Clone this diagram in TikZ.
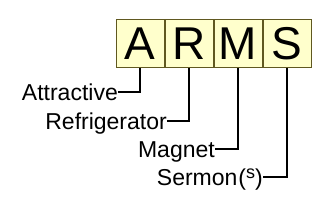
\documentclass[tikz,border=0pt]{standalone}
\usepackage{fontspec}
\setmainfont{Liberation Sans}
\usetikzlibrary{%
    arrows.meta,%
    positioning
    }
\definecolor{boxfill}{RGB}{255,255,204}
\definecolor{boxline}{RGB}{96,88,32}
\tikzset{
  letterbox/.style={
    rectangle,
    minimum size=48pt,
    inner sep=0pt,
    line width=1pt,
    draw=boxline,
    fill=boxfill,
    font=\fontsize{46}{46}\selectfont,
  },
  wordlabel/.style={
    inner sep=0pt,
    text height=16.5pt,
    text depth=0pt,
    font=\fontsize{23}{23}\selectfont,
  },
  connector/.style={
    line width=1.5pt,
    black,
  },
}

\begin{document}
\begin{tikzpicture}[x=1pt,y=-1pt]
\useasboundingbox (0,0) rectangle (328,219);
\node[letterbox]
  (boxA)
  at (140,44)
  {A};
\node[letterbox,right=0pt of boxA]
  (boxR)
  {R};
\node[letterbox,right=0pt of boxR]
  (boxM)
  {M};
\node[letterbox,right=0pt of boxM]
  (boxS)
  {S};

\node[wordlabel,anchor=east]
  (attr)
  at (118,92)
  {Attractive};
\node[wordlabel,anchor=east]
  (fridge)
  at (167,121)
  {Refrigerator};
\node[wordlabel,anchor=east]
  (magnet)
  at (215,149)
  {Magnet};
\node[wordlabel,anchor=east]
  (sermon)
  at (263,177)
  {Sermon\kern1pt(\raisebox{7pt}{\fontsize{18}{18}\selectfont s})};

\begin{scope}[connector]
\draw
  (attr.east) -| (boxA.south);
\draw
  (fridge.east) -| (boxR.south);
\draw
  (magnet.east) -| (boxM.south);
\draw
  (sermon.east) -| (boxS.south);
\end{scope}
\end{tikzpicture}
\end{document}
